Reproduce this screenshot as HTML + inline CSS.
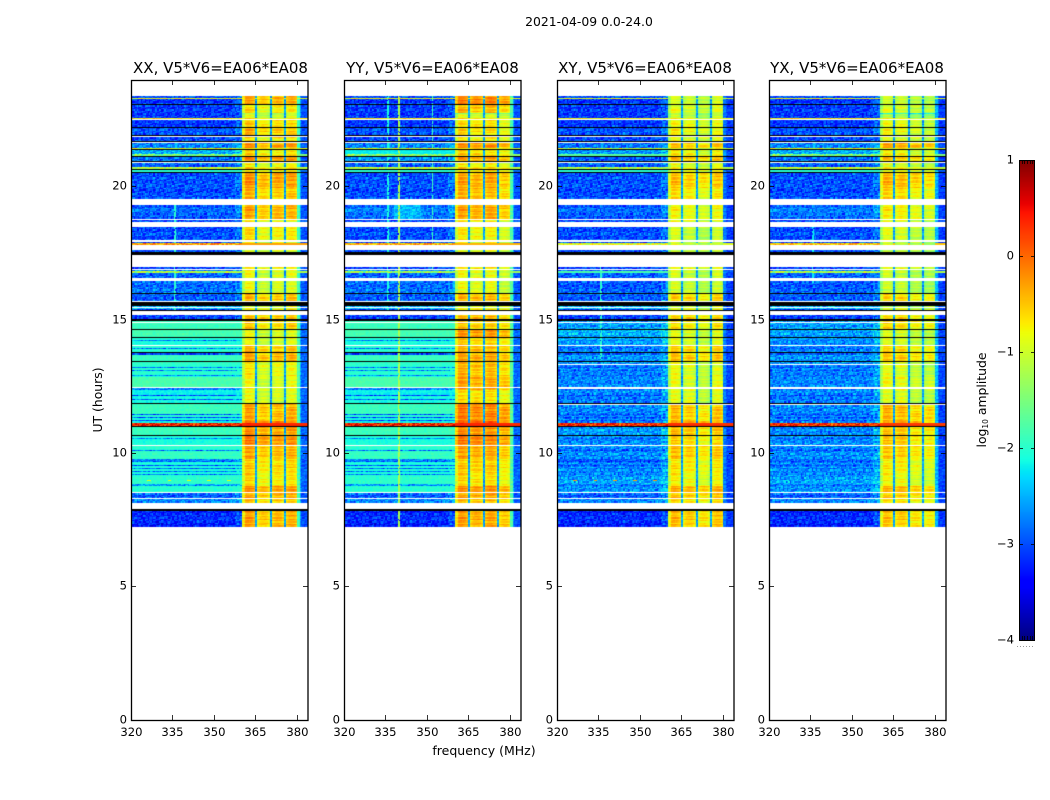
<!DOCTYPE html>
<html lang="en">
<head>
<meta charset="utf-8">
<title>2021-04-09 0.0-24.0</title>
<style>
html,body{margin:0;padding:0;background:#fff;}
#stage{position:relative;width:1050px;height:800px;overflow:hidden;background:#fff;font-family:"DejaVu Sans","Liberation Sans",sans-serif;}
canvas{position:absolute;display:block;}
svg{position:absolute;left:0;top:0;}
text{font-family:"DejaVu Sans","Liberation Sans",sans-serif;fill:#000;}
</style>
</head>
<body>
<div id="stage">
<canvas id="heat-xx"></canvas>
<canvas id="heat-yy"></canvas>
<canvas id="heat-xy"></canvas>
<canvas id="heat-yx"></canvas>
<canvas id="cbar"></canvas>
<svg id="overlay" width="1050" height="800" viewBox="0 0 1050 800">
<text x="589" y="26" text-anchor="middle" font-size="12.4">2021-04-09 0.0-24.0</text>
<text x="220.5" y="73" text-anchor="middle" font-size="15">XX, V5*V6=EA06*EA08</text>
<text x="432.5" y="73" text-anchor="middle" font-size="15">YY, V5*V6=EA06*EA08</text>
<text x="645" y="73" text-anchor="middle" font-size="15">XY, V5*V6=EA06*EA08</text>
<text x="857" y="73" text-anchor="middle" font-size="15">YX, V5*V6=EA06*EA08</text>
<text x="484" y="755" text-anchor="middle" font-size="12.5">frequency (MHz)</text>
<text x="0" y="0" transform="translate(102,400) rotate(-90)" text-anchor="middle" font-size="12.4">UT (hours)</text>
<text x="0" y="0" transform="translate(986,400) rotate(-90)" text-anchor="middle" font-size="12.4">log<tspan font-size="7.5" dy="2">10</tspan><tspan dy="-2"> amplitude</tspan></text>
</svg>
</div>
<script>
/* ---- axis values ---- */
const xTickValues = [320, 335, 350, 365, 380];
const xTickLabels = ["320", "335", "350", "365", "380"];
const yTickValues = [0, 5, 10, 15, 20];
const yTickLabels = ["0", "5", "10", "15", "20"];
const cbarTickValues = [1, 0, -1, -2, -3, -4];
const cbarTickLabels = ["1", "0", "\u22121", "\u22122", "\u22123", "\u22124"];
const polarizations = ["XX", "YY", "XY", "YX"];

/* ---- time rows: top edge of each run of integrations, UT hours (last entry closes the data) ---- */
const rowTopUT = [23.40,23.34,23.30,23.06,22.76,22.71,22.58,22.53,22.20,21.84,21.62,21.45,21.36,21.21,21.11,20.87,20.74,20.68,20.61,20.53,19.95,19.33,18.75,18.49,17.94,17.89,17.83,17.00,16.88,16.82,16.77,16.46,15.98,15.54,15.43,15.19,14.98,14.63,14.33,14.25,14.21,14.01,13.95,13.91,13.76,13.69,13.43,13.24,13.20,13.13,13.09,12.94,12.90,12.86,12.45,12.39,12.19,12.15,12.04,12.00,11.85,11.48,11.44,11.36,11.33,11.25,11.21,11.12,10.97,10.65,10.57,10.54,10.28,10.13,10.09,9.79,9.66,9.56,9.52,9.45,9.41,9.34,9.30,9.22,9.19,8.85,8.78,8.51,8.29,7.84,7.24];

/* ---- log10 amplitude below 360 MHz, per time row ---- */
const lowXX = [-2.9,-0.9,-3,-3,-3,-3,-0.7,-3,-2.9,-2.9,-2.6,-0.9,-2.4,-1.5,-2.7,-2.8,-1.1,-2.3,-2,-2.9,-2.9,-2.8,-2.9,-2.9,-2.9,-0.3,-2.9,-2.9,-2.7,-1.2,-2.8,-2.7,-2.8,-2.3,-3,-3,-1.9,-1.85,-2.1,-2.7,-2.1,-2,-2.7,-2,-3,-1.9,-2,-2.6,-2,-2.6,-2,-2.6,-2.1,-1.8,-2.7,-2.2,-2.8,-2.1,-2.8,-2.1,-1.9,-2.8,-2,-2.8,-2.1,-2.8,-2.2,0.35,-1.9,-2.1,-2.6,-2.1,-2,-2.6,-1.95,-2.7,-2.1,-2.8,-2.1,-2.8,-2.1,-2.7,-2.1,-2.7,-2,-2.5,-2,-2.8,-2.6,-3.1];
const lowYY = [-2.9,-0.9,-3,-3,-3,-3,-0.7,-3,-2.9,-2.9,-2.6,-1,-2.2,-1.4,-2.5,-2.8,-1.1,-2.3,-2,-2.9,-2.9,-2.7,-2.9,-2.9,-2.9,-0.4,-2.9,-2.9,-2.6,-1.3,-2.8,-2.7,-2.8,-2.3,-3,-3,-1.9,-1.85,-2.1,-2.7,-2.1,-2,-2.7,-2,-3,-1.9,-2,-2.6,-2,-2.6,-2,-2.6,-2.1,-1.8,-2.7,-2.2,-2.8,-2.1,-2.8,-2.1,-1.9,-2.8,-2,-2.8,-2.1,-2.8,-2.2,0.35,-1.9,-2.1,-2.6,-2.1,-2,-2.6,-1.95,-2.7,-2.1,-2.8,-2.1,-2.8,-2.1,-2.7,-2.1,-2.7,-2,-2.5,-2,-2.8,-2.6,-3.1];
const lowXY = [-2.9,-1,-3,-3,-3,-3,-0.8,-3,-2.9,-2.9,-2.7,-1.1,-2.5,-1.7,-2.8,-2.8,-1.2,-2.3,-2,-2.9,-2.9,-2.8,-2.9,-2.9,-2.9,-0.9,-2.9,-2.9,-2.9,-1.8,-2.8,-2.8,-2.8,-2.3,-3,-3,-2.5,-2.4,-2.5,-2.7,-2.5,-2.6,-2.8,-2.6,-2.9,-2.5,-2.6,-2.8,-2.6,-2.8,-2.6,-2.8,-2.6,-2.6,-2.8,-2.6,-2.8,-2.6,-2.8,-2.6,-2.6,-2.8,-2.6,-2.8,-2.6,-2.8,-2.7,0.3,-2.5,-2.6,-2.8,-2.6,-2.6,-2.8,-2.6,-2.9,-2.6,-2.8,-2.6,-2.8,-2.6,-2.7,-2.6,-2.7,-2.5,-2.7,-2.5,-2.8,-2.6,-3.1];
const lowYX = [-2.9,-0.9,-3,-3,-3,-3,-0.7,-3,-2.9,-2.9,-2.6,-0.9,-2.4,-1.5,-2.7,-2.8,-1.1,-2.3,-2,-2.9,-2.9,-2.7,-2.9,-2.9,-2.9,-0.5,-2.9,-2.9,-2.7,-1.2,-2.8,-2.8,-2.8,-2.3,-3,-3,-2.5,-2.5,-2.6,-2.7,-2.6,-2.6,-2.8,-2.6,-2.9,-2.5,-2.6,-2.8,-2.6,-2.8,-2.6,-2.8,-2.6,-2.6,-2.8,-2.6,-2.8,-2.6,-2.8,-2.6,-2.6,-2.8,-2.6,-2.8,-2.6,-2.8,-2.7,0.25,-2.6,-2.6,-2.8,-2.6,-2.6,-2.8,-2.6,-2.8,-2.6,-2.8,-2.6,-2.8,-2.6,-2.7,-2.6,-2.7,-2.5,-2.7,-2.5,-2.8,-2.6,-3.1];

/* ---- log10 amplitude in the 360-380 MHz band, per time row ---- */
const highXX = [-0.3,-0.3,-0.3,-0.6,-1,-0.9,-0.5,-0.5,-0.4,-0.7,-0.2,-0.6,-0.6,-0.5,-0.2,-0.7,-0.5,-0.7,-0.6,-0.2,-0.4,-0.3,-0.7,-0.6,-0.8,-0.8,-0.8,-0.6,-0.8,-0.8,-0.8,-0.8,-0.4,-0.8,-0.6,-0.4,-0.5,-0.8,-0.8,-0.8,-0.8,-0.4,-0.4,-0.4,-0.3,-0.3,-0.7,-0.7,-0.7,-0.7,-0.7,-0.7,-0.7,-0.8,-0.8,-0.8,-0.8,-0.8,-0.8,-0.8,-0.3,-0.3,-0.3,-0.3,-0.3,-0.3,0,0.2,-0.2,-0.1,-0.1,-0.1,-0.3,-0.3,-0.3,-0.5,-0.5,-0.5,-0.5,-0.5,-0.5,-0.5,-0.5,-0.5,-0.6,-0.6,-0.2,-0.3,-0.4,-0.3];
const highYY = [-0.2,-0.2,-0.1,-0.4,-1.3,-0.9,-0.5,-0.6,-0.6,-0.7,-0.2,-0.6,-0.6,-0.5,-0.3,-0.7,-0.5,-0.7,-0.6,-0.3,-0.4,-0.3,-0.7,-0.7,-0.8,-0.8,-0.8,-0.6,-0.8,-0.8,-0.8,-0.8,-0.4,-0.8,-0.6,-0.4,-0.5,-0.2,-0.5,-0.5,-0.5,-0.4,-0.4,-0.4,-0.3,-0.3,-0.4,-0.4,-0.4,-0.4,-0.4,-0.4,-0.4,-0.3,-0.3,-0.6,-0.6,-0.6,-0.6,-0.6,-0.1,-0.1,-0.1,-0.1,-0.1,-0.1,0.1,0.2,-0.2,-0.1,-0.1,-0.1,-0.3,-0.3,-0.3,-0.5,-0.5,-0.5,-0.5,-0.5,-0.5,-0.5,-0.5,-0.5,-0.6,-0.6,-0.2,-0.3,-0.4,-0.3];
const highXY = [-0.8,-0.8,-0.8,-0.7,-0.9,-0.9,-0.5,-0.6,-0.6,-0.7,-0.3,-0.6,-0.6,-0.5,-0.3,-0.7,-0.6,-0.7,-0.6,-0.3,-0.5,-0.6,-0.7,-0.8,-0.8,-0.8,-0.8,-0.6,-0.8,-0.8,-0.8,-0.8,-0.4,-0.8,-0.6,-0.4,-0.5,-0.7,-0.7,-0.7,-0.7,-0.4,-0.4,-0.4,-0.3,-0.3,-0.7,-0.7,-0.7,-0.7,-0.7,-0.7,-0.7,-0.7,-0.7,-0.7,-0.7,-0.7,-0.7,-0.7,-0.3,-0.3,-0.3,-0.3,-0.3,-0.3,-0.1,0.2,-0.3,-0.4,-0.4,-0.4,-0.3,-0.3,-0.3,-0.5,-0.5,-0.5,-0.5,-0.5,-0.5,-0.5,-0.5,-0.5,-0.6,-0.6,-0.2,-0.3,-0.4,-0.3];
const highYX = [-0.8,-0.8,-0.8,-0.7,-1.7,-1,-0.5,-0.6,-0.6,-0.7,-0.1,-0.6,-0.6,-0.5,-0.3,-0.7,-0.5,-0.7,-0.6,-0.2,-0.4,-0.5,-0.7,-0.7,-0.8,-0.8,-0.8,-0.6,-0.8,-0.8,-0.8,-0.8,-0.4,-0.8,-0.6,-0.4,-0.4,-0.7,-0.7,-0.7,-0.7,-0.4,-0.4,-0.4,-0.3,-0.3,-0.7,-0.7,-0.7,-0.7,-0.7,-0.7,-0.7,-0.6,-0.6,-0.7,-0.7,-0.7,-0.7,-0.7,-0.2,-0.2,-0.2,-0.2,-0.2,-0.2,-0.1,0.2,-0.3,-0.3,-0.3,-0.3,-0.3,-0.3,-0.3,-0.5,-0.5,-0.5,-0.5,-0.5,-0.5,-0.5,-0.5,-0.5,-0.6,-0.6,-0.2,-0.3,-0.4,-0.3];

/* ---- flagged time ranges (UT) ---- */
const whiteTop = [22.52,21.90,21.67,20.93,19.54,18.79,18.68,18.00,17.83,17.45,16.91,16.58,15.71,15.48,15.34,14.91,14.06,12.50,10.31,8.55,8.32,8.14];
const whiteBottom = [22.49,21.87,21.64,20.90,19.33,18.76,18.49,17.94,17.64,17.00,16.88,16.46,15.68,15.45,15.19,14.88,14.03,12.47,10.28,8.52,8.29,7.91];
const crossWhiteTop = [13.36,12.44,11.84];
const crossWhiteBottom = [13.33,12.41,11.81];
const blackTop = [23.10,22.24,21.94,21.71,21.41,21.15,20.96,20.66,20.56,17.55,16.01,15.68,15.38,15.03,14.66,14.36,13.80,13.46,11.89,11.04,10.69,7.91];
const blackBottom = [23.06,22.20,21.90,21.68,21.36,21.11,20.93,20.63,20.53,17.45,15.98,15.54,15.34,14.98,14.63,14.33,13.76,13.43,11.85,10.97,10.65,7.84];

/* ---- frequency structure (MHz) ---- */
const blockStart = [360, 365.7, 371, 376];
const blockEnd = [364.9, 370.2, 375.3, 380.2];
const blockOffsetXX = [0.05, -0.2, -0.1, -0.05];
const blockOffsetYY = [0.05, -0.05, 0, -0.2];
const blockOffsetXY = [-0.1, -0.2, -0.35, -0.15];
const blockOffsetYX = [-0.15, -0.2, -0.35, -0.4];
const tailLevelXX = [-1.9, -2.6, -3.0];
const tailLevelYY = [-1.8, -2.6, -3.0];
const tailLevelXY = [-2.8, -3.0, -3.1];
const tailLevelYX = [-2.5, -2.9, -3.1];
const gapLevel = -2.6;

/* ---- narrow interference channels and the UT range they span ---- */
const rfiFreqXX = [336];
const rfiLevelXX = [-2.0];
const rfiTopXX = [19.3];
const rfiBottomXX = [15.2];
const rfiFreqYY = [340, 336, 352];
const rfiLevelYY = [-1.2, -2.1, -1.9];
const rfiTopYY = [23.4, 23.4, 23.4];
const rfiBottomYY = [7.2, 15.2, 16.9];
const rfiFreqXY = [336];
const rfiLevelXY = [-2.0];
const rfiTopXY = [17.0];
const rfiBottomXY = [13.5];
const rfiFreqYX = [336];
const rfiLevelYX = [-2.2];
const rfiTopYX = [18.5];
const rfiBottomYX = [16.4];

/* ---- broad faint patch: frequency range, UT range, level ---- */
const patchFreqLowYY = [338];
const patchFreqHighYY = [348];
const patchTopYY = [19.33];
const patchBottomYY = [18.8];
const patchLevelYY = [-2.45];

/* ---- hot pixels at one integration ---- */
const hotFreq = [326.5, 333.8, 341, 348.2, 355.4];
const hotUT = 8.98;
const hotLevel = {XX: -0.8, YY: -2.2, XY: -0.3, YX: -2.2};

/* ---- channel-to-channel scatter ---- */
const speckle = [0.42,-0.71,0.13,0.88,-0.35,-0.92,0.57,0.05,-0.48,0.76,-0.16,0.31,-0.83,0.64,-0.27,0.95,-0.59,0.09,0.38,-0.74,0.21,-0.41,0.69,-0.03,-0.87,0.52,0.17,-0.63,0.83,-0.22,0.46,-0.96,0.28,0.73,-0.11,-0.54,0.61,-0.34,0.02,0.91,-0.78,0.35,-0.19,0.55,-0.67,0.12,0.8,-0.44,-0.07,0.66,-0.89,0.24,0.49,-0.29,0.97,-0.52,0.07,-0.72,0.33,0.6,-0.14,-0.85,0.44,0.19,-0.38,0.78,-0.61,0.27,-0.05,0.86,-0.47,0.11,-0.93,0.58,0.36,-0.24,0.71,-0.68,0.15,0.5,-0.32,-0.81,0.93,-0.09,0.4,-0.57,0.25,0.67,-0.77,0.03,-0.43,0.84,-0.18,0.54,-0.65,0.3,-0.99];

/* ---- layout ---- */
const axisLeft = {XX: 131, YY: 344, XY: 557, YX: 769};
const axisWidth = 177;
const axisTop = 80;
const axisBottom = 720;
const freqMin = 320, freqMax = 384, utMin = 0, utMax = 24;
const channelWidthMHz = 0.5;
const rowHeightUT = 0.05;
const cbarLeft = 1019, cbarWidth = 16, cbarTop = 160, cbarBottom = 640, cbarMax = 1, cbarMin = -4;

const lows = {XX: lowXX, YY: lowYY, XY: lowXY, YX: lowYX};
const highs = {XX: highXX, YY: highYY, XY: highXY, YX: highYX};
const blockOffsets = {XX: blockOffsetXX, YY: blockOffsetYY, XY: blockOffsetXY, YX: blockOffsetYX};
const tails = {XX: tailLevelXX, YY: tailLevelYY, XY: tailLevelXY, YX: tailLevelYX};
const rfiFreqs = {XX: rfiFreqXX, YY: rfiFreqYY, XY: rfiFreqXY, YX: rfiFreqYX};
const rfiLevels = {XX: rfiLevelXX, YY: rfiLevelYY, XY: rfiLevelXY, YX: rfiLevelYX};
const rfiTops = {XX: rfiTopXX, YY: rfiTopYY, XY: rfiTopXY, YX: rfiTopYX};
const rfiBottoms = {XX: rfiBottomXX, YY: rfiBottomYY, XY: rfiBottomXY, YX: rfiBottomYX};

function xScale(pol, f) { return axisLeft[pol] + (f - freqMin) * axisWidth / (freqMax - freqMin); }
function yScale(ut) { return axisBottom - (ut - utMin) * (axisBottom - axisTop) / (utMax - utMin); }
function cbarScale(v) { return cbarTop + (cbarMax - v) * (cbarBottom - cbarTop) / (cbarMax - cbarMin); }
function utFromY(y) { return utMin + (axisBottom - y) * (utMax - utMin) / (axisBottom - axisTop); }
function freqFromX(pol, x) { return freqMin + (x - axisLeft[pol]) * (freqMax - freqMin) / axisWidth; }

function lerpSeg(t, pts) {
  for (let i = 1; i < pts.length; i++) {
    if (t <= pts[i][0]) {
      const a = pts[i - 1], b = pts[i];
      return a[1] + (b[1] - a[1]) * (t - a[0]) / (b[0] - a[0]);
    }
  }
  return pts[pts.length - 1][1];
}
function jet(v) {
  const t = Math.max(0, Math.min(1, (v - cbarMin) / (cbarMax - cbarMin)));
  const r = lerpSeg(t, [[0, 0], [0.35, 0], [0.66, 1], [0.89, 1], [1, 0.5]]);
  const g = lerpSeg(t, [[0, 0], [0.125, 0], [0.375, 1], [0.64, 1], [0.91, 0], [1, 0]]);
  const b = lerpSeg(t, [[0, 0.5], [0.11, 1], [0.34, 1], [0.65, 0], [1, 0]]);
  return [Math.round(r * 255), Math.round(g * 255), Math.round(b * 255)];
}
function rowIndexAt(ut) {
  if (ut > rowTopUT[0] || ut <= rowTopUT[rowTopUT.length - 1]) return -1;
  for (let i = 0; i < rowTopUT.length - 1; i++) {
    if (ut <= rowTopUT[i] && ut > rowTopUT[i + 1]) return i;
  }
  return -1;
}
function cellValue(pol, i, f, r, c, ut) {
  const low = lows[pol][i];
  const hi = highs[pol][i];
  const s = speckle[(r * 31 + c * 17) % 97];
  const s2 = speckle[(r * 11 + c * 5 + 3) % 97];
  const rowShift = speckle[(r * 3) % 97];
  let v;
  if (f < blockStart[0]) {
    if (low > -1.6) v = low + 0.45 * s + 0.15 * s2;
    else if (low > -2.3) v = low + 0.06 * s + 0.07 * s2 + 0.04 * rowShift;
    else v = low - 0.12 + 0.34 * s + 0.22 * s2 + 0.1 * rowShift;
    if (low <= -2.4 && f > 357.5) v += 0.2;
    if (pol === "YY") {
      for (let k = 0; k < patchFreqLowYY.length; k++) {
        if (f >= patchFreqLowYY[k] && f < patchFreqHighYY[k] && ut <= patchTopYY[k] && ut > patchBottomYY[k]) v = Math.max(v, patchLevelYY[k] + 0.3 * s);
      }
    }
    const fl = rfiFreqs[pol];
    for (let k = 0; k < fl.length; k++) {
      if (Math.abs(f - fl[k]) < channelWidthMHz * 0.6 && s2 > -0.7 && ut <= rfiTops[pol][k] && ut > rfiBottoms[pol][k]) v = Math.max(v, rfiLevels[pol][k]);
    }
    if (Math.abs(ut - hotUT) < rowHeightUT * 0.6) {
      for (let k = 0; k < hotFreq.length; k++) {
        if (Math.abs(f - hotFreq[k]) < channelWidthMHz * 1.2) v = Math.max(v, hotLevel[pol]);
      }
    }
    return v;
  }
  if (f >= blockEnd[blockEnd.length - 1]) {
    const tail = tails[pol];
    const t = f < 381 ? tail[0] : (f < 381.5 ? tail[1] : tail[2]);
    return Math.max(low > -1.6 ? low : -9, t + 0.12 * (low + 3) + 0.22 * s);
  }
  for (let b = 0; b < blockStart.length; b++) {
    if (f >= blockStart[b] && f < blockEnd[b]) {
      const mid = (blockStart[b] + blockEnd[b]) / 2;
      const half = (blockEnd[b] - blockStart[b]) / 2;
      const edge = Math.abs(f - mid) / half;
      const stripe = speckle[(r + b * 29) % 97] * 0.2;
      v = hi + blockOffsets[pol][b] - 0.28 * edge * edge + 0.08 * s + stripe;
      if (b === 0 && f < 361.2) v -= 0.3;
      return Math.max(v, low > -0.5 ? low : -9);
    }
  }
  return Math.max(gapLevel + 0.25 * s, low > -1.2 ? low : -9);
}
function drawHeat(pol, id) {
  const cv = document.getElementById(id);
  const W = axisWidth, H = axisBottom - axisTop;
  cv.width = W; cv.height = H;
  cv.style.left = axisLeft[pol] + "px";
  cv.style.top = axisTop + "px";
  const ctx = cv.getContext("2d");
  const img = ctx.createImageData(W, H);
  const cross = pol === "XY" || pol === "YX";
  for (let py = 0; py < H; py++) {
    const ut = utFromY(axisTop + py + 0.5);
    const i = rowIndexAt(ut);
    if (i < 0) continue;
    const r = Math.floor(ut / rowHeightUT);
    for (let px = 0; px < W; px++) {
      const f = freqFromX(pol, axisLeft[pol] + px + 0.5);
      const c = Math.floor((f - freqMin) / channelWidthMHz);
      const rgb = jet(cellValue(pol, i, f, r, c, ut));
      const o = (py * W + px) * 4;
      img.data[o] = rgb[0]; img.data[o + 1] = rgb[1]; img.data[o + 2] = rgb[2]; img.data[o + 3] = 255;
    }
  }
  ctx.putImageData(img, 0, 0);
  function band(top, bottom, color) {
    const y0 = Math.round(yScale(top)) - axisTop;
    const y1 = Math.max(y0 + 1, Math.round(yScale(bottom)) - axisTop);
    ctx.fillStyle = color;
    ctx.fillRect(0, y0, W, y1 - y0);
  }
  for (let k = 0; k < whiteTop.length; k++) band(whiteTop[k], whiteBottom[k], "#fff");
  if (cross) for (let k = 0; k < crossWhiteTop.length; k++) band(crossWhiteTop[k], crossWhiteBottom[k], "#fff");
  for (let k = 0; k < blackTop.length; k++) band(blackTop[k], blackBottom[k], "#000");
}
function drawColorbar() {
  const cv = document.getElementById("cbar");
  const H = cbarBottom - cbarTop;
  cv.width = cbarWidth; cv.height = H;
  cv.style.left = cbarLeft + "px";
  cv.style.top = cbarTop + "px";
  const ctx = cv.getContext("2d");
  for (let y = 0; y < H; y++) {
    const v = cbarMax - (y + 0.5) * (cbarMax - cbarMin) / H;
    const rgb = jet(v);
    ctx.fillStyle = "rgb(" + rgb.join(",") + ")";
    ctx.fillRect(0, y, cbarWidth, 1);
  }
}
const svgNS = "http://www.w3.org/2000/svg";
const overlay = document.getElementById("overlay");
function addLine(x1, y1, x2, y2, name, width) {
  const el = document.createElementNS(svgNS, "line");
  el.setAttribute("x1", x1);
  el.setAttribute("y1", y1);
  el.setAttribute("x2", x2);
  el.setAttribute("y2", y2);
  el.setAttribute("stroke", "#000");
  el.setAttribute("stroke-width", width || 0.8);
  
  
  overlay.appendChild(el);
  return el;
}
function addLabel(x, y, str, anchor, name) {
  const el = document.createElementNS(svgNS, "text");
  el.setAttribute("x", x);
  el.setAttribute("y", y);
  el.setAttribute("text-anchor", anchor);
  el.setAttribute("font-size", "11.6");
  el.textContent = str;
  
  
  overlay.appendChild(el);
}
function drawAxes(pol) {
  const left = axisLeft[pol], right = left + axisWidth;
  const frame = document.createElementNS(svgNS, "rect");
  frame.setAttribute("x", left + 0.5);
  frame.setAttribute("y", axisTop + 0.5);
  frame.setAttribute("width", axisWidth - 0.5);
  frame.setAttribute("height", axisBottom - axisTop);
  frame.setAttribute("fill", "none");
  frame.setAttribute("stroke", "#000");
  frame.setAttribute("stroke-width", "1.3");
  
  
  overlay.appendChild(frame);
  xTickValues.forEach(function (f, k) {
    const x = Math.round(xScale(pol, f)) + 0.5;
    addLine(x, axisBottom, x, axisBottom - 5, "x-tick-bottom");
    addLine(x, axisTop, x, axisTop + 5, "x-tick-top");
    addLabel(x, axisBottom + 16, xTickLabels[k], "middle", "x-tick-label");
  });
  yTickValues.forEach(function (u, k) {
    const y = Math.floor(yScale(u)) + 0.5;
    addLine(left, y, left + 5, y, "y-tick-left");
    addLine(right - 5, y, right, y, "y-tick-right");
    addLabel(left - 4, y + 3, yTickLabels[k], "end", "y-tick-label");
  });
}
function drawColorbarAxis() {
  const frame = document.createElementNS(svgNS, "rect");
  frame.setAttribute("x", cbarLeft + 0.5);
  frame.setAttribute("y", cbarTop + 0.5);
  frame.setAttribute("width", cbarWidth - 1);
  frame.setAttribute("height", cbarBottom - cbarTop);
  frame.setAttribute("fill", "none");
  frame.setAttribute("stroke", "#000");
  frame.setAttribute("stroke-width", "1");
  
  
  overlay.appendChild(frame);
  cbarTickValues.forEach(function (v, k) {
    const y = Math.round(cbarScale(v)) + 0.5;
    addLine(cbarLeft, y, cbarLeft + 4, y, "colorbar-tick-left");
    addLine(cbarLeft + cbarWidth - 4, y, cbarLeft + cbarWidth, y, "colorbar-tick-right");
    addLabel(cbarLeft - 5, y + 3, cbarTickLabels[k], "end", "colorbar-tick-label");
  });
  for (let k = 1; k <= 5; k++) {
    const x = cbarLeft + Math.round(k * cbarWidth / 6) + 0.5;
    addLine(x, cbarTop, x, cbarTop + 4, "colorbar-end-tick-top");
    addLine(x, cbarBottom - 4, x, cbarBottom, "colorbar-end-tick-bottom");
  }
  const dots = document.createElementNS(svgNS, "line");
  dots.setAttribute("x1", cbarLeft - 2);
  dots.setAttribute("y1", cbarBottom + 6.5);
  dots.setAttribute("x2", cbarLeft + cbarWidth);
  dots.setAttribute("y2", cbarBottom + 6.5);
  dots.setAttribute("stroke", "#999");
  dots.setAttribute("stroke-width", "1");
  dots.setAttribute("stroke-dasharray", "1 2");
  
  
  overlay.appendChild(dots);
}
polarizations.forEach(function (pol) {
  drawHeat(pol, "heat-" + pol.toLowerCase());
  drawAxes(pol);
});
drawColorbar();
drawColorbarAxis();
</script>
</body>
</html>
